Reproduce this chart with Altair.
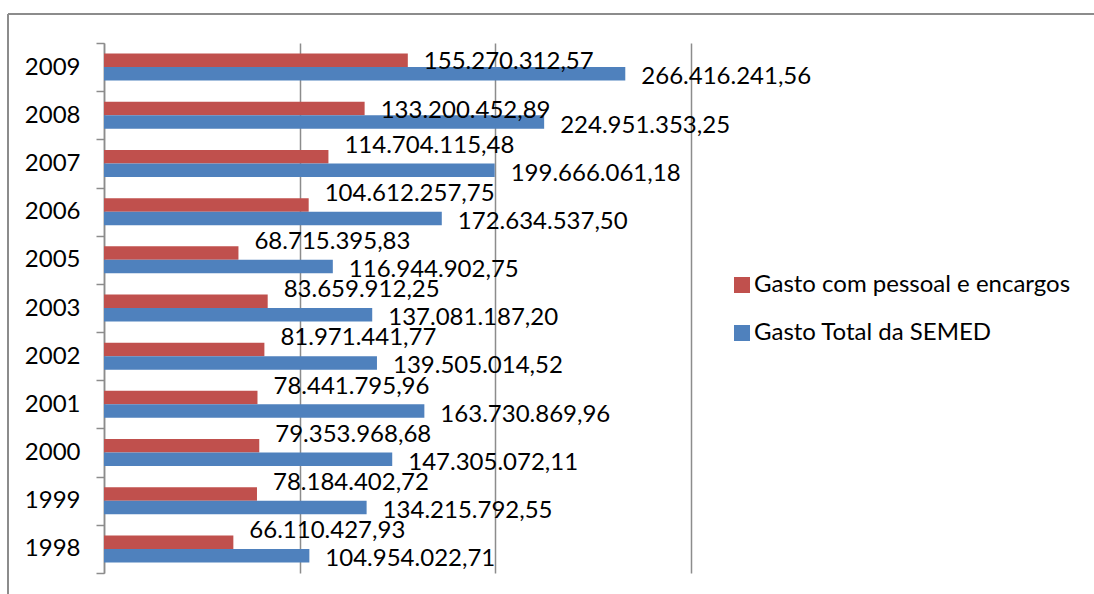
import altair as alt
import pandas as pd

years = ["2009", "2008", "2007", "2006", "2005", "2003", "2002", "2001", "2000", "1999", "1998"]
pessoal = [155270312.57, 133200452.89, 114704115.48, 104612257.75, 68715395.83,
           83659912.25, 81971441.77, 78441795.96, 79353968.68, 78184402.72, 66110427.93]
total = [266416241.56, 224951353.25, 199666061.18, 172634537.50, 116944902.75,
         137081187.20, 139505014.52, 163730869.96, 147305072.11, 134215792.55, 104954022.71]
series = ["Gasto com pessoal e encargos", "Gasto Total da SEMED"]
colors = ["#C0504D", "#4F81BD"]
grid_values = [0, 100000000, 200000000, 300000000]


def br(v):
    s = f"{v:,.2f}"
    return s.replace(",", "X").replace(".", ",").replace("X", ".")


rows = []
for y, p, t in zip(years, pessoal, total):
    rows.append({"ano": y, "serie": series[0], "valor": p, "rotulo": br(p), "dif": t - p})
    rows.append({"ano": y, "serie": series[1], "valor": t, "rotulo": br(t), "dif": t - p})
df = pd.DataFrame(rows)

FONT = "Lato"
GRAY = "#8c8c8c"
FS = 24

y_enc = alt.Y("ano:N", sort=years, title=None,
              scale=alt.Scale(paddingInner=0, paddingOuter=0),
              axis=alt.Axis(tickBand="extent", ticks=True, tickSize=8, tickColor=GRAY,
                            tickWidth=1.5, domainColor=GRAY, domainWidth=1.5,
                            labelFont=FONT, labelFontSize=FS, labelColor="black",
                            labelPadding=16, grid=False))
x_enc = alt.X("valor:Q", title=None,
              scale=alt.Scale(domain=[0, 300000000], nice=False),
              axis=alt.Axis(values=grid_values, labels=False, ticks=False, domain=False,
                            grid=True, gridColor=GRAY, gridWidth=1.5))
yoff = alt.YOffset("serie:N", sort=series,
                   scale=alt.Scale(paddingInner=0, paddingOuter=0.785))

bars = alt.Chart(df).mark_bar().encode(
    y=y_enc,
    x=x_enc,
    yOffset=yoff,
    color=alt.Color("serie:N", sort=series,
                    scale=alt.Scale(domain=series, range=colors),
                    legend=alt.Legend(title=None, orient="none", legendX=626, legendY=230,
                                      symbolType="square", symbolSize=256, symbolStrokeWidth=0,
                                      labelFont=FONT, labelFontSize=FS, labelColor="black",
                                      labelLimit=0, rowPadding=24, labelOffset=0, padding=0)),
)


def text_layer(filter_expr, dy):
    return alt.Chart(df).transform_filter(filter_expr).mark_text(
        align="left", baseline="middle", dx=16, dy=dy,
        font=FONT, fontSize=FS, color="black").encode(
        y=alt.Y("ano:N", sort=years),
        x=alt.X("valor:Q"),
        yOffset=yoff,
        text="rotulo:N",
    )


# Excel lifts the red label above its bar when it would collide with the blue label
red_free = text_layer(f"datum.serie === '{series[0]}' && datum.dif >= 90000000", 2)
red_lifted = text_layer(f"datum.serie === '{series[0]}' && datum.dif < 90000000", -11)
blue_labels = text_layer(f"datum.serie === '{series[1]}'", 3.5)

frame_data = alt.Data(values=[{"k": 1}])
frame_top = alt.Chart(frame_data).mark_rule(color=GRAY, strokeWidth=2).encode(
    x=alt.value(-96), x2=alt.value(990), y=alt.value(-29))
frame_left = alt.Chart(frame_data).mark_rule(color=GRAY, strokeWidth=2).encode(
    x=alt.value(-96), y=alt.value(-29), y2=alt.value(560))

chart = alt.layer(bars, red_free, red_lifted, blue_labels, frame_top, frame_left).properties(
    width=587, height=530,
    autosize=alt.AutoSizeParams(type="none"),
    padding={"left": 104, "top": 43, "right": 403, "bottom": 21},
).configure(background="white").configure_view(stroke=None)

chart.save("out.html", embed_options={"renderer": "svg", "actions": False})
